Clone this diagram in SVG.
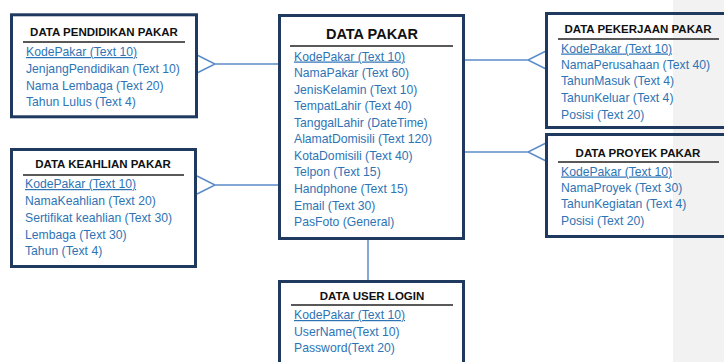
<svg xmlns="http://www.w3.org/2000/svg" width="724" height="362" viewBox="0 0 724 362">
<style>
.box{fill:none;stroke:#1f3a5e;stroke-width:3}
.ul{stroke:#595959;stroke-width:2}
.title{font-family:"Liberation Sans",Arial,sans-serif;font-weight:bold;font-size:11.5px;fill:#111;text-anchor:middle}
.big{font-size:14.5px}
.row{font-family:"Liberation Sans",Arial,sans-serif;font-size:12.2px;fill:#2e74b5}
.key{text-decoration:underline}
.conn{fill:none;stroke:#5b8cc8;stroke-width:1.5}
</style>
<rect x="0" y="0" width="724" height="362" fill="#ffffff"/>
<rect x="673" y="0" width="51" height="362" fill="#f2f2f2"/>
<g id="connectors">
<path class="conn" d="M215,64 H278 M197,55 L215,64 L197,73"/>
<path class="conn" d="M215,185 H278 M197,176 L215,185 L197,194"/>
<path class="conn" d="M465,60 H528 M546,51 L528,60 L546,69"/>
<path class="conn" d="M465,152 H528 M546,143 L528,152 L546,161"/>
<path class="conn" d="M368,240 V280"/>
</g>
<g id="pendidikan">
<rect class="box" x="11.5" y="14.8" width="185" height="102"/>
<text class="title" x="104" y="36">DATA PENDIDIKAN PAKAR</text>
<line class="ul" x1="23" y1="42" x2="185" y2="42"/>
<text class="row key" x="26" y="56">KodePakar (Text 10)</text>
<text class="row" x="26" y="73">JenjangPendidikan (Text 10)</text>
<text class="row" x="26" y="89.5">Nama Lembaga (Text 20)</text>
<text class="row" x="26" y="106">Tahun Lulus (Text 4)</text>
</g>
<g id="keahlian">
<rect class="box" x="11.5" y="149.5" width="184" height="117"/>
<text class="title" x="103" y="168">DATA KEAHLIAN PAKAR</text>
<line class="ul" x1="23" y1="175" x2="184" y2="175"/>
<text class="row key" x="25" y="188">KodePakar (Text 10)</text>
<text class="row" x="25" y="205">NamaKeahlian (Text 20)</text>
<text class="row" x="25" y="222">Sertifikat keahlian (Text 30)</text>
<text class="row" x="25" y="239">Lembaga (Text 30)</text>
<text class="row" x="25" y="255">Tahun (Text 4)</text>
</g>
<g id="pakar">
<rect class="box" x="279.5" y="15.5" width="184" height="223"/>
<text class="title big" x="372" y="38.5">DATA PAKAR</text>
<line class="ul" x1="290" y1="46" x2="453" y2="46"/>
<text class="row key" x="294" y="60.5">KodePakar (Text 10)</text>
<text class="row" x="294" y="77">NamaPakar (Text 60)</text>
<text class="row" x="294" y="93.5">JenisKelamin (Text 10)</text>
<text class="row" x="294" y="110">TempatLahir (Text 40)</text>
<text class="row" x="294" y="126.5">TanggalLahir (DateTime)</text>
<text class="row" x="294" y="143">AlamatDomisili (Text 120)</text>
<text class="row" x="294" y="159.5">KotaDomisili (Text 40)</text>
<text class="row" x="294" y="176">Telpon (Text 15)</text>
<text class="row" x="294" y="193">Handphone (Text 15)</text>
<text class="row" x="294" y="209.5">Email (Text 30)</text>
<text class="row" x="294" y="226">PasFoto (General)</text>
</g>
<g id="userlogin">
<rect class="box" x="279.5" y="281.5" width="184" height="100"/>
<text class="title" x="372" y="300">DATA USER LOGIN</text>
<line class="ul" x1="291" y1="305" x2="453" y2="305"/>
<text class="row key" x="294" y="319">KodePakar (Text 10)</text>
<text class="row" x="294" y="335.5">UserName(Text 10)</text>
<text class="row" x="294" y="351.5">Password(Text 20)</text>
</g>
<g id="pekerjaan">
<rect class="box" x="546.5" y="13.5" width="200" height="114"/>
<text class="title" x="638" y="33">DATA PEKERJAAN PAKAR</text>
<line class="ul" x1="558" y1="39" x2="719" y2="39"/>
<text class="row key" x="561" y="52.5">KodePakar (Text 10)</text>
<text class="row" x="561" y="68.5">NamaPerusahaan (Text 40)</text>
<text class="row" x="561" y="85">TahunMasuk (Text 4)</text>
<text class="row" x="561" y="102">TahunKeluar (Text 4)</text>
<text class="row" x="561" y="119">Posisi (Text 20)</text>
</g>
<g id="proyek">
<rect class="box" x="546.5" y="134.5" width="200" height="102"/>
<text class="title" x="638" y="157">DATA PROYEK PAKAR</text>
<line class="ul" x1="558" y1="162" x2="719" y2="162"/>
<text class="row key" x="561" y="175.5">KodePakar (Text 10)</text>
<text class="row" x="561" y="191.5">NamaProyek (Text 30)</text>
<text class="row" x="561" y="208">TahunKegiatan (Text 4)</text>
<text class="row" x="561" y="224.5">Posisi (Text 20)</text>
</g>
</svg>
